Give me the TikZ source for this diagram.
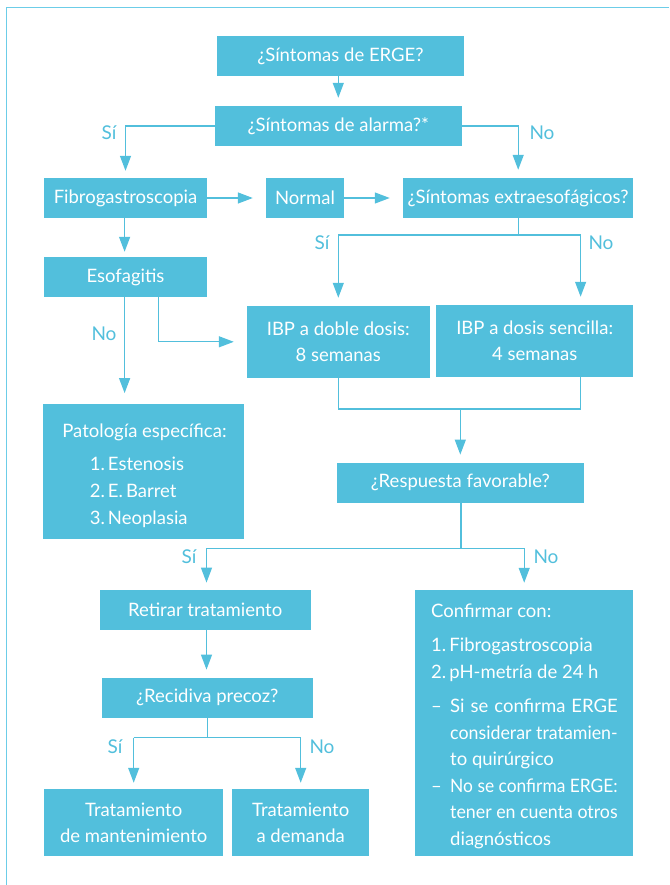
\documentclass[tikz,border=0pt]{standalone}
\usepackage{fontspec}
\setmainfont{Lato}
\usetikzlibrary{arrows.meta,calc}
\definecolor{boxc}{HTML}{52BFDC}
\definecolor{framec}{HTML}{6CCDE8}
\newlength\fitw
\newcommand\fitline[1]{\settowidth\fitw{#1}\ifdim\fitw>167.5pt\resizebox{167.5pt}{\height}{#1}\else\makebox[167.5pt][s]{#1}\fi}
\tikzset{
  box/.style={fill=boxc, draw=none, inner sep=0pt, text=white, align=center, font=\fontsize{18.5}{26.5}\selectfont},
  boxtext/.style={inner sep=0pt, text=white, anchor=base west, font=\fontsize{18.5}{26.5}\selectfont},
  conn/.style={draw=boxc, line width=1.3pt},
  arr/.style={conn, -{Triangle[length=15pt,width=11pt]}, shorten >=8pt},
  lbl/.style={text=boxc, font=\fontsize{19}{22}\selectfont, inner sep=0pt}
}
\begin{document}
\begin{tikzpicture}[x=1pt,y=-1pt]
\useasboundingbox (0,0) rectangle (669,885);
\draw[framec, line width=1.5pt] (6.5,885) -- (6.5,7.5) -- (669,7.5);

% boxes
\node[box, minimum width=247pt, minimum height=40pt] (erge) at (340.5,56) {¿Síntomas de ERGE?};
\node[box, minimum width=247pt, minimum height=40pt] (alarma) at (338.3,126) {¿Síntomas de alarma?*};
\node[box, minimum width=163pt, minimum height=40pt] (fibro) at (125.5,198) {Fibrogastroscopia};
\node[box, minimum width=78pt, minimum height=40pt] (normal) at (305,198) {Normal};
\node[box, minimum width=230.5pt, minimum height=40pt] (extra) at (518.2,198) {¿Síntomas extraesofágicos?};
\node[box, minimum width=163pt, minimum height=40pt] (esof) at (125.5,277) {Esofagitis};
\node[box, minimum width=182.6pt, minimum height=71.7pt] (doble) at (338.3,341.8) {IBP a doble dosis:\\8 semanas};
\node[box, minimum width=197.5pt, minimum height=71.7pt] (sencilla) at (534.7,340.8) {IBP a dosis sencilla:\\4 semanas};
\node[box, minimum width=200.6pt, minimum height=135pt] (patol) at (143.3,471.8) {};
\node[boxtext, anchor=base] (p0) at (144.5,437) {Patología específica:};
\node[boxtext] (p1) at (89.6,470) {1.\,Estenosis};
\node[boxtext] (p2) at (89.6,497) {2.\,E.\,Barret};
\node[boxtext] (p3) at (89.6,524) {3.\,Neoplasia};
\node[box, minimum width=246.6pt, minimum height=40pt] (resp) at (460.3,482.8) {¿Respuesta favorable?};
\node[box, minimum width=210.8pt, minimum height=40pt] (retirar) at (205.2,609.8) {Retirar tratamiento};
\node[box, minimum width=210.7pt, minimum height=40pt] (recid) at (207.3,697.8) {¿Recidiva precoz?};
\node[box, minimum width=179.5pt, minimum height=67.3pt] (mant) at (133.7,822.6) {Tratamiento\\de mantenimiento};
\node[box, minimum width=137.5pt, minimum height=67.3pt] (demanda) at (300.7,822.6) {Tratamiento\\a demanda};
\node[box, minimum width=218.5pt, minimum height=266.3pt] (conf) at (524.2,723.1) {};
\node[boxtext] (c1) at (431,617) {Confirmar con:};
\node[boxtext] (c2) at (431,651) {1.\,Fibrogastroscopia};
\node[boxtext] (c3) at (431,678) {2.\,pH-metría de 24 h};
\node[boxtext] (cd1) at (431,712) {–};
\node[boxtext] (c4) at (450,712) {\fitline{Si se confirma ERGE}};
\node[boxtext] (c5) at (450,739) {\fitline{considerar tratamien-}};
\node[boxtext] (c6) at (450,765.5) {to quirúrgico};
\node[boxtext] (cd2) at (431,792) {–};
\node[boxtext] (c7) at (450,792) {\fitline{No se confirma ERGE:}};
\node[boxtext] (c8) at (450,818.5) {\fitline{tener en cuenta otros}};
\node[boxtext] (c9) at (450,845) {diagnósticos};

% coordinates
\coordinate (j1) at (518.2,235);
\coordinate (j1l) at (338.3,235);
\coordinate (j1r) at (580.6,235);
\coordinate (e1) at (124.6,296.7);
\coordinate (e2) at (158.3,296.7);
\coordinate (e2b) at (158.3,341.8);
\coordinate (d1) at (338.3,409);
\coordinate (s1t) at (580.6,376.7);
\coordinate (s1) at (580.6,409);
\coordinate (m1) at (460.3,409);
\coordinate (r1) at (461,548.3);
\coordinate (r1l) at (206.5,548.3);
\coordinate (r1r) at (524.2,548.3);
\coordinate (q1) at (207.3,737.7);
\coordinate (q1l) at (133.7,737.7);
\coordinate (q1r) at (300.7,737.7);

% connectors
\draw[arr] (erge.south -| alarma.north) -- (alarma.north);
\draw[arr, shorten >=7pt] (alarma.west) -| (fibro.north);
\draw[arr] (alarma.east) -| (extra.north);
\draw[arr, shorten >=13pt] (fibro.east) -- (normal.west);
\draw[arr, shorten >=13pt] (normal.east) -- (extra.west);
\draw[conn] (extra.south) -- (j1);
\draw[conn] (j1l) -- (j1r);
\draw[arr] (j1l) -- (doble.north);
\draw[arr] (j1r) -- (j1r |- sencilla.north);
\draw[arr, shorten >=5pt] (fibro.south -| e1) -- (esof.north -| e1);
\draw[arr, shorten >=11pt] (e1) -- (e1 |- patol.north);
\draw[arr, shorten >=13pt] (e2) -- (e2b) -- (doble.west);
\draw[conn] (doble.south) -- (d1) -- (s1) -- (s1t);
\draw[arr] (m1) -- (resp.north);
\draw[conn] (resp.south -| r1) -- (r1);
\draw[conn] (r1l) -- (r1r);
\draw[arr, shorten >=7pt] (r1l) -- (r1l |- retirar.north);
\draw[arr, shorten >=7pt] (r1r) -- (conf.north);
\draw[arr] (retirar.south -| r1l) -- (recid.north -| r1l);
\draw[conn] (recid.south) -- (q1);
\draw[conn] (q1l) -- (q1r);
\draw[arr, shorten >=6pt] (q1l) -- (mant.north);
\draw[arr, shorten >=6pt] (q1r) -- (demanda.north);

% labels
\node[lbl] (l1) at (109,133) {Sí};
\node[lbl] (l2) at (542,133) {No};
\node[lbl] (l3) at (322,243) {Sí};
\node[lbl] (l4) at (601,243) {No};
\node[lbl] (l5) at (104,334) {No};
\node[lbl] (l6) at (189,557) {Sí};
\node[lbl] (l7) at (546,557) {No};
\node[lbl] (l8) at (115,747) {Sí};
\node[lbl] (l9) at (322,747) {No};
\end{tikzpicture}
\end{document}
